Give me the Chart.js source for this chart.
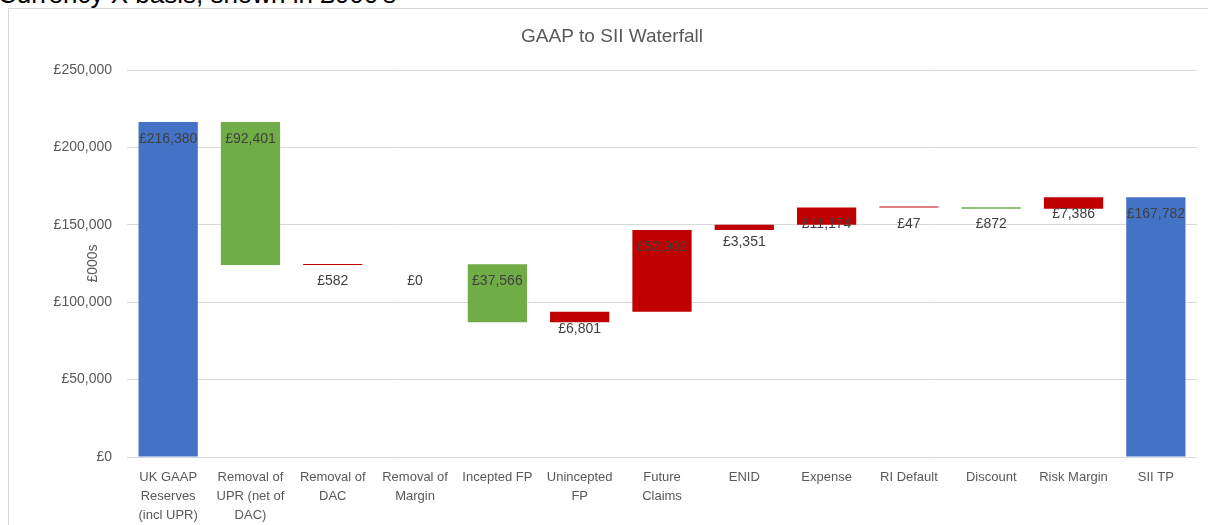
<!DOCTYPE html>
<html>
<head>
<meta charset="utf-8">
<script src="https://cdn.jsdelivr.net/npm/chart.js@4"></script>
<style>
    body { margin: 0; background: #fff; overflow: hidden; }
    #wrap { position: relative; width: 1208px; height: 525px; overflow: hidden; }
    #note {
        position: absolute; left: -2px; top: -19px;
        font: 26px 'Liberation Sans', Arial, sans-serif; line-height: 26px;
        color: #000; white-space: nowrap;
    }
    #frame {
        position: absolute; left: 8px; top: 8px; width: 1220px; height: 540px;
        border: 1px solid #d9d9d9; box-sizing: border-box;
    }
    #chartBox { position: absolute; left: 0; top: 0; width: 1208px; height: 525px; }
</style>
</head>
<body>
<div id="wrap">
    <div id="note">Currency X basis, shown in £000's</div>
    <div id="frame"></div>
    <div id="chartBox"><canvas id="waterfall"></canvas></div>
</div>
<script>
const categories = [
    ['UK GAAP', 'Reserves', '(incl UPR)'],
    ['Removal of', 'UPR (net of', 'DAC)'],
    ['Removal of', 'DAC'],
    ['Removal of', 'Margin'],
    'Incepted FP',
    ['Unincepted', 'FP'],
    ['Future', 'Claims'],
    'ENID',
    'Expense',
    'RI Default',
    'Discount',
    'Risk Margin',
    'SII TP'
];
const amounts = [216380, 92401, 582, 0, 37566, 6801, 52902, 3351, 11174, 47, 872, 7386, 167782];
const kinds = ['total', 'down', 'up', 'up', 'down', 'up', 'up', 'up', 'up', 'up', 'down', 'up', 'total'];
const yTicks = [0, 50000, 100000, 150000, 200000, 250000];

const kindColours = { total: '#4472C4', down: '#70AD47', up: '#C00000' };
const money = v => '£' + v.toLocaleString('en-GB');

// running total -> floating [low, high] bars
let running = 0;
const ranges = [];
const labelTops = [];
amounts.forEach((v, i) => {
    let lo, hi;
    if (kinds[i] === 'total') {
        lo = 0; hi = v; running = v;
    } else if (kinds[i] === 'down') {
        lo = running - v; hi = running; running = lo;
    } else {
        lo = running; hi = running + v; running = hi;
    }
    ranges.push(v === 0 ? null : [lo, hi]);
    labelTops.push(hi);
});

const valueLabels = {
    id: 'valueLabels',
    afterDatasetsDraw(chart) {
        const { ctx, scales: { x, y } } = chart;
        ctx.save();
        ctx.font = '14px "Liberation Sans", Arial, sans-serif';
        ctx.fillStyle = '#404040';
        ctx.textAlign = 'center';
        ctx.textBaseline = 'middle';
        amounts.forEach((v, i) => {
            ctx.fillText(money(v), x.getPixelForValue(i), y.getPixelForValue(labelTops[i]) + 17);
        });
        ctx.restore();
    }
};

const chartTitle = {
    id: 'chartTitle',
    afterDraw(chart) {
        const ctx = chart.ctx;
        ctx.save();
        ctx.font = '19px "Liberation Sans", Arial, sans-serif';
        ctx.fillStyle = '#595959';
        ctx.textAlign = 'center';
        ctx.textBaseline = 'middle';
        ctx.fillText('GAAP to SII Waterfall', 612, 37);
        ctx.restore();
    }
};

new Chart(document.getElementById('waterfall').getContext('2d'), {
    type: 'bar',
    data: {
        labels: categories,
        datasets: [{
            data: ranges,
            backgroundColor: kinds.map(k => kindColours[k]),
            borderWidth: 0,
            minBarLength: 1,
            categoryPercentage: 1,
            barPercentage: 0.72
        }]
    },
    options: {
        responsive: true,
        maintainAspectRatio: false,
        animation: false,
        layout: { padding: { top: 70, right: 11, left: 0, bottom: 0 } },
        plugins: {
            legend: { display: false },
            tooltip: { enabled: false },
            title: { display: false }
        },
        scales: {
            x: {
                grid: { display: false },
                border: { display: false },
                afterFit: scale => { scale.height = 68; },
                ticks: {
                    color: '#595959',
                    maxRotation: 0,
                    autoSkip: false,
                    padding: 3,
                    font: { family: 'Liberation Sans', size: 13, lineHeight: 1.46 }
                }
            },
            y: {
                min: 0,
                max: 250000,
                afterFit: scale => { scale.width = 127; },
                afterBuildTicks: scale => { scale.ticks = yTicks.map(v => ({ value: v })); },
                grid: { color: '#d9d9d9', drawTicks: false },
                border: { display: false },
                title: {
                    display: true,
                    text: '£000s',
                    color: '#595959',
                    padding: { top: 85, bottom: 0 },
                    font: { family: 'Liberation Sans', size: 14 }
                },
                ticks: {
                    color: '#595959',
                    padding: 15,
                    font: { family: 'Liberation Sans', size: 14 },
                    callback: v => money(v)
                }
            }
        }
    },
    plugins: [valueLabels, chartTitle]
});
</script>
</body>
</html>
